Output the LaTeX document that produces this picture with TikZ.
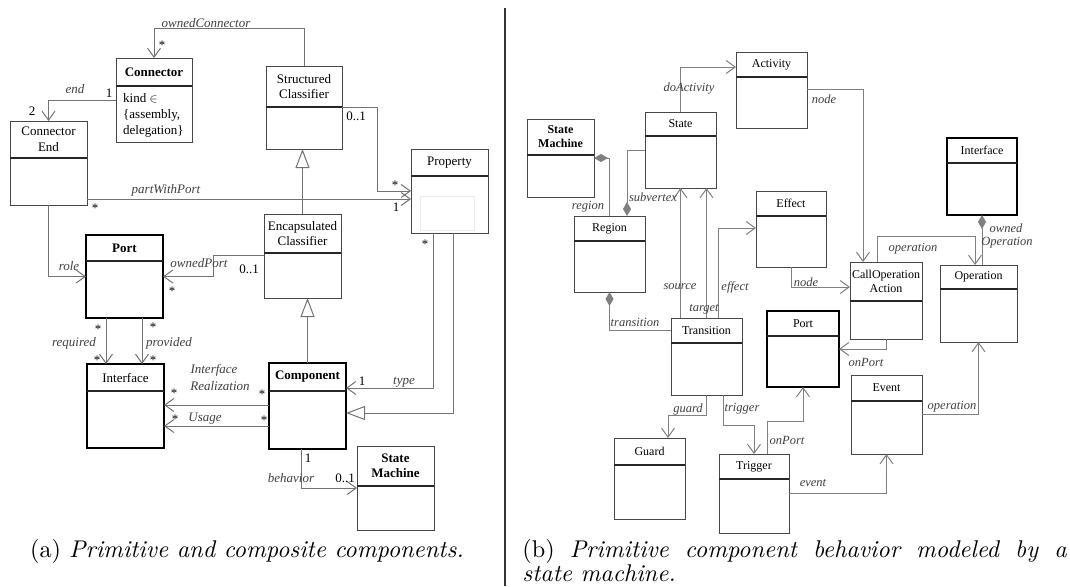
\documentclass[tikz,border=0pt]{standalone}
\usepackage{fontspec}
\newfontfamily\umlfont{Liberation Serif}
\usetikzlibrary{arrows.meta}
\newcommand\umlbox[8][]{%
  \node[box,#1,anchor=north west,minimum width={(#5-#3)*1pt},minimum height={(#6-#4)*1pt}] (#2) at (#3,#4) {};
  \draw[divline] (#3,#7) -- (#5,#7);
  \node[title] (#2-t) at ({(#3+#5)/2},{(#4+#7)/2}) {#8};
}
\begin{document}
\begin{tikzpicture}[x=1pt,y=-1pt,
  box/.style={draw=black!72,line width=0.8pt,fill=white,inner sep=0pt,outer sep=0pt},
  thickbox/.style={draw=black,line width=2pt},
  divline/.style={draw=black!85,line width=1.1pt},
  title/.style={font=\umlfont\fontsize{13}{15.5}\selectfont,align=center,inner sep=0pt},
  lbl/.style={font=\umlfont\itshape\fontsize{13}{15.5}\selectfont,text=black!75,inner sep=0pt,align=center},
  mul/.style={font=\umlfont\fontsize{13}{15.5}\selectfont,inner sep=0pt},
  con/.style={draw=black!55,line width=1pt},
  assoc/.style={con,-{Straight Barb[length=9pt,width=13pt]}},
  gen/.style={con,-{Triangle[length=19pt,width=14pt,fill=white]}},
  compo/.style={con,{Diamond[length=14pt,width=8pt]}-},
  captext/.style={font=\fontsize{10}{12}\selectfont,inner sep=0pt,scale=2.42,transform shape}
]
\useasboundingbox (0,0) rectangle (1070,586);
\path[fill=white] (0,0) rectangle (1070,586);

% ---------------- left panel ----------------
\umlbox{conn}{116}{58}{192}{142}{86}{\textbf{Connector}}
\node[mul,anchor=north west,align=left,font=\umlfont\fontsize{13}{16}\selectfont] (connattr) at (123,93) {kind $\in$\\\{assembly,\\delegation\}};
\umlbox{cend}{10}{121}{87}{205}{158}{Connector\\End}
\umlbox{sc}{266}{66}{342}{149}{107}{Structured\\Classifier}
\umlbox{prop}{411}{149}{488}{233}{176}{Property}
\draw[black!8] (420,196) rectangle (474,230);
\umlbox{ec}{264}{214}{341}{298}{253}{Encapsulated\\Classifier}
\umlbox[thickbox]{port}{86}{235}{163}{318}{261}{\textbf{Port}}
\umlbox[thickbox]{iface}{87}{364}{164}{448}{391}{Interface}
\umlbox[thickbox]{comp}{269}{363}{346}{449}{391}{\textbf{Component}}
\umlbox{smL}{357}{446}{434}{530}{486}{\textbf{State}\\\textbf{Machine}}

\draw[assoc] (sc.north) -- (sc.north |- 0,29) -| (conn.north);
\draw[assoc] (conn.west) -| (cend.north);
\draw[assoc] (cend.east |- 0,199) -- (prop.west |- 0,199);
\draw[assoc] (sc.east |- 0,107) -- (377,107) -- (377,191) -- (prop.west |- 0,191);
\draw[gen] (ec.north) -- (ec.north |- sc.south);
\draw[gen] (comp.north) -- (comp.north |- ec.south);
\draw[assoc] (cend.south) |- (port.west);
\draw[assoc] (ec.west |- 0,255) -- (213,255) |- (port.east);
\draw[assoc] ([xshift=-18.5pt]port.south) -- ([xshift=-18.5pt]port.south |- iface.north);
\draw[assoc] ([xshift=17.5pt]port.south) -- ([xshift=17.5pt]port.south |- iface.north);
\draw[assoc] (comp.west |- 0,405) -- (iface.east |- 0,405);
\draw[assoc] (comp.west |- 0,426) -- (iface.east |- 0,426);
\draw[assoc] (prop.south -| 433,0) |- (comp.east |- 0,388);
\draw[gen] (prop.south -| 453,0) |- (comp.east |- 0,413);
\draw[assoc] (comp.south -| 301,0) |- (smL.west);

\node[lbl] (lOC) at (206,23) {ownedConnector};
\node[mul] (mOC) at (162,45) {*};
\node[lbl] (lEnd) at (75,89) {end};
\node[mul] (mEnd1) at (109,93) {1};
\node[mul] (mEnd2) at (32,111) {2};
\node[lbl] (lPWP) at (166,190) {partWithPort};
\node[mul] (mPWP1) at (95,208) {*};
\node[mul] (mPWP2) at (396,207) {1};
\node[mul] (mSC1) at (356,116) {0..1};
\node[mul] (mSC2) at (395,185) {*};
\node[lbl] (lRole) at (69,266) {role};
\node[lbl] (lOP) at (199,263) {ownedPort};
\node[mul] (mOP1) at (172,291) {*};
\node[mul] (mOP2) at (249,269) {0..1};
\node[lbl] (lReq) at (74,343) {required};
\node[lbl] (lProv) at (169,343) {provided};
\node[mul] (mReq1) at (98,329) {*};
\node[mul] (mReq2) at (97,360) {*};
\node[mul] (mProv1) at (153,327) {*};
\node[mul] (mProv2) at (153,360) {*};
\node[lbl] (lIR1) at (214,370) {Interface};
\node[lbl] (lIR2) at (220,386) {Realization};
\node[mul] (mIR1) at (174,393) {*};
\node[mul] (mIR2) at (262,394) {*};
\node[lbl] (lUse) at (205,419) {Usage};
\node[mul] (mUse1) at (175,419) {*};
\node[mul] (mUse2) at (264,420) {*};
\node[mul] (mType1) at (425,244) {*};
\node[mul] (mType2) at (362,381) {1};
\node[lbl] (lType) at (404,382) {type};
\node[mul] (mBeh1) at (308,458) {1};
\node[lbl] (lBeh) at (291,478) {behavior};
\node[mul] (mBeh2) at (345,478) {0..1};

\node[captext,anchor=base] (capA) at (247,557) {(a) \textit{Primitive and composite components.}};

% separator
\draw[black!80,line width=1.3pt] (505,8) -- (505,586);

% ---------------- right panel ----------------
\begin{scope}[title/.style={font=\umlfont\fontsize{12}{14}\selectfont,align=center,inner sep=0pt},
  lbl/.style={font=\umlfont\itshape\fontsize{12.5}{14.5}\selectfont,text=black!75,inner sep=0pt,align=center},
  con/.style={draw=black!50,line width=1pt}]
\umlbox{smR}{527}{119}{594}{197}{155}{\textbf{State}\\\textbf{Machine}}
\umlbox{state}{645}{112}{716}{188}{136}{State}
\umlbox{activity}{736}{52}{807}{128}{77}{Activity}
\umlbox{region}{574}{216}{645}{292}{241}{Region}
\umlbox{effect}{756}{191}{826}{267}{216}{Effect}
\umlbox[thickbox]{iface2}{947}{138}{1017}{215}{163}{Interface}
\umlbox{callop}{850}{262}{922}{339}{301}{CallOperation\\Action}
\umlbox{op}{940}{265}{1017}{342}{289}{Operation}
\umlbox{trans}{671}{318}{742}{395}{343}{Transition}
\umlbox[thickbox]{port2}{767}{311}{839}{387}{336}{Port}
\umlbox{event}{851}{375}{922}{454}{401}{Event}
\umlbox{guard}{614}{438}{685}{519}{465}{Guard}
\umlbox{trigger}{719}{454}{789}{533}{479}{Trigger}

\draw[assoc] (state.north) |- (activity.west |- 0,67);
\draw[assoc] (activity.east |- 0,89) -| ([xshift=-23pt]callop.north);
\draw[assoc] (effect.south) |- (callop.west |- 0,287);
\draw[assoc] ([xshift=-9pt]callop.north) -- ++(0,-26) -| ([xshift=-3.5pt]op.north);
\draw[compo] (iface2.south) -- (iface2.south |- op.north);
\draw[assoc] (callop.south) |- (port2.east);
\draw[assoc] (trans.north -| state.south) -- (state.south);
\draw[assoc] (trans.north) -- (trans.north |- state.south);
\draw[assoc] ([xshift=11.5pt]trans.north) |- (effect.west |- 0,228);
\draw[compo] (smR.east) -| (region.north);
\draw[compo] ([xshift=17.5pt]region.north) |- (state.west);
\draw[compo] (region.south) |- (trans.west |- 0,330);
\draw[assoc] (trans.south) -- ++(0,20) -| ([xshift=18.5pt]guard.north);
\draw[assoc] ([xshift=16.5pt]trans.south) -- ++(0,30) -| (trigger.north);
\draw[assoc] ([xshift=13pt]trigger.north) -- ++(0,-33) -| (port2.south);
\draw[assoc] (trigger.east) -| (event.south);
\draw[assoc] (event.east) -| (op.south);

\node[lbl] (rDoAct) at (689,89) {doActivity};
\node[lbl] (rNode1) at (824,99) {node};
\node[lbl] (rNode2) at (806,282) {node};
\node[lbl] (rOper1) at (913,249) {operation};
\node[lbl] (rOwned1) at (1006,228) {owned};
\node[lbl] (rOwned2) at (1007,243) {Operation};
\node[lbl] (rOnPort1) at (866,362) {onPort};
\node[lbl] (rRegion) at (588,207) {region};
\node[lbl] (rSubv) at (653,197) {subvertex};
\node[lbl] (rSource) at (680,287) {source};
\node[lbl] (rTarget) at (704,309) {target};
\node[lbl] (rEffect) at (735,287) {effect};
\node[lbl] (rTrans) at (635,322) {transition};
\node[lbl] (rGuard) at (688,409) {guard};
\node[lbl] (rTrigger) at (742,409) {trigger};
\node[lbl] (rOnPort2) at (787,440) {onPort};
\node[lbl] (rEvent) at (813,483) {event};
\node[lbl] (rOper2) at (952,407) {operation};
\end{scope}

\node[captext,anchor=base west] (capB1) at (522,557) {\hbox to 225pt{(b) \textit{Primitive component behavior modeled by a}}};
\node[captext,anchor=base west] (capB2) at (522,581) {\textit{state machine.}};
\end{tikzpicture}
\end{document}
